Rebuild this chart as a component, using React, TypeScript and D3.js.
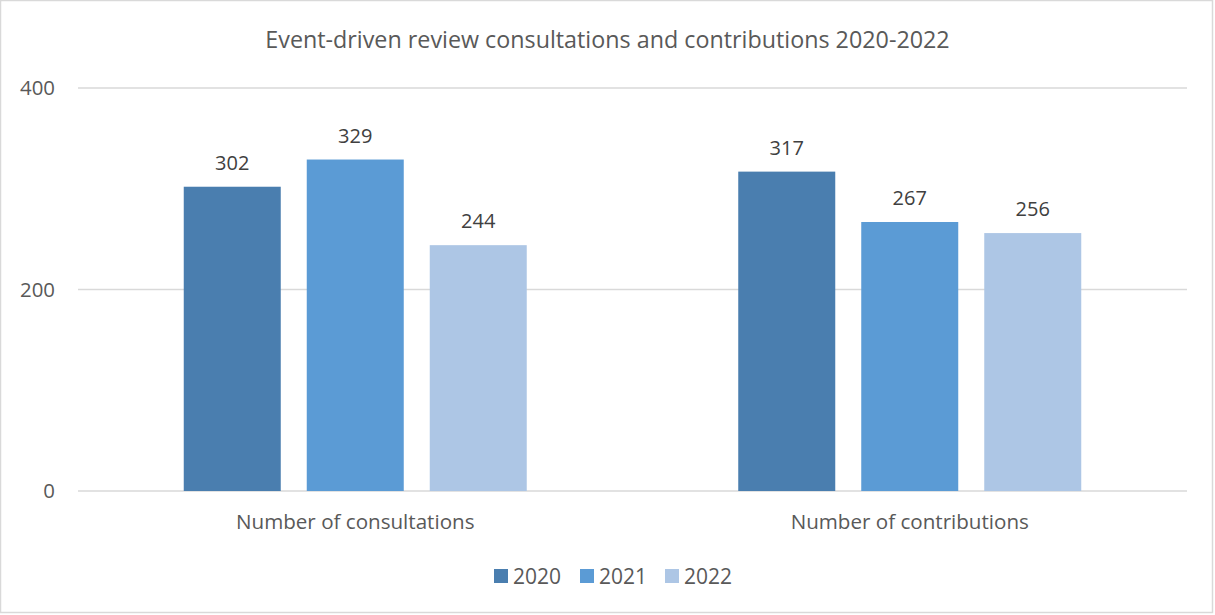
import React from "react";
import * as d3 from "d3";

const categories = ["Number of consultations", "Number of contributions"];
const years = ["2020", "2021", "2022"];
const values2020 = [302, 317];
const values2021 = [329, 267];
const values2022 = [244, 256];
const yTicks = [0, 200, 400];
const colors = ["#4a7eaf", "#5b9bd5", "#adc6e5"];
const title = "Event-driven review consultations and contributions 2020-2022";

const W = 1215, H = 615;
const FONT = "'Open Sans', Lato, sans-serif";
const TXT = "#595959";

export default function App() {
  const series = [values2020, values2021, values2022];
  const plot = { left: 78, right: 1187, top: 88, bottom: 491 };
  const y = d3.scaleLinear().domain([0, 400]).range([plot.bottom, plot.top]);
  const x0 = d3.scaleBand().domain(categories).range([plot.left, plot.right]).paddingInner(0).paddingOuter(0);
  const groupW = 343;
  const x1 = d3.scaleBand().domain(years).range([0, groupW]).paddingInner(26 / 123).paddingOuter(0);
  const offset = (x0.bandwidth() - groupW) / 2;

  const legendX = [494, 580, 665];

  return (
    <svg width={W} height={H} style={{ position: "absolute", left: 0, top: 0 }} fontFamily={FONT}>
      <rect x={0.5} y={0.5} width={W - 3} height={H - 3} fill="#fff" stroke="#d9d9d9" strokeWidth={1.5} />
      <text x={(plot.left + plot.right) / 2 - 25} y={48} textAnchor="middle" fontSize={23.3} fill={TXT}>{title}</text>
      {yTicks.map((t) => (
        <g key={t}>
          <line x1={plot.left} x2={plot.right} y1={y(t)} y2={y(t)} stroke="#d9d9d9" strokeWidth={1.3} />
          <text x={55} y={y(t) + 7} textAnchor="end" fontSize={20.4} fill={TXT}>{t}</text>
        </g>
      ))}
      {categories.map((c, ci) => (
        <g key={c} transform={`translate(${x0(c)! + offset},0)`}>
          {years.map((yr, si) => {
            const v = series[si][ci];
            const bx = x1(yr)!;
            return (
              <g key={yr}>
                <rect x={bx} y={y(v)} width={x1.bandwidth()} height={y(0) - y(v)} fill={colors[si]} />
                <text x={bx + x1.bandwidth() / 2} y={y(v) - 17} textAnchor="middle" fontSize={20} fill="#404040">{v}</text>
              </g>
            );
          })}
        </g>
      ))}
      {categories.map((c) => (
        <text key={c} x={x0(c)! + x0.bandwidth() / 2} y={529} textAnchor="middle" fontSize={20.6} fill={TXT}>{c}</text>
      ))}
      {years.map((yr, i) => (
        <g key={yr}>
          <rect x={legendX[i]} y={569} width={14} height={14} fill={colors[i]} />
          <text x={legendX[i] + 19} y={584} fontSize={21} fill={TXT}>{yr}</text>
        </g>
      ))}
    </svg>
  );
}
